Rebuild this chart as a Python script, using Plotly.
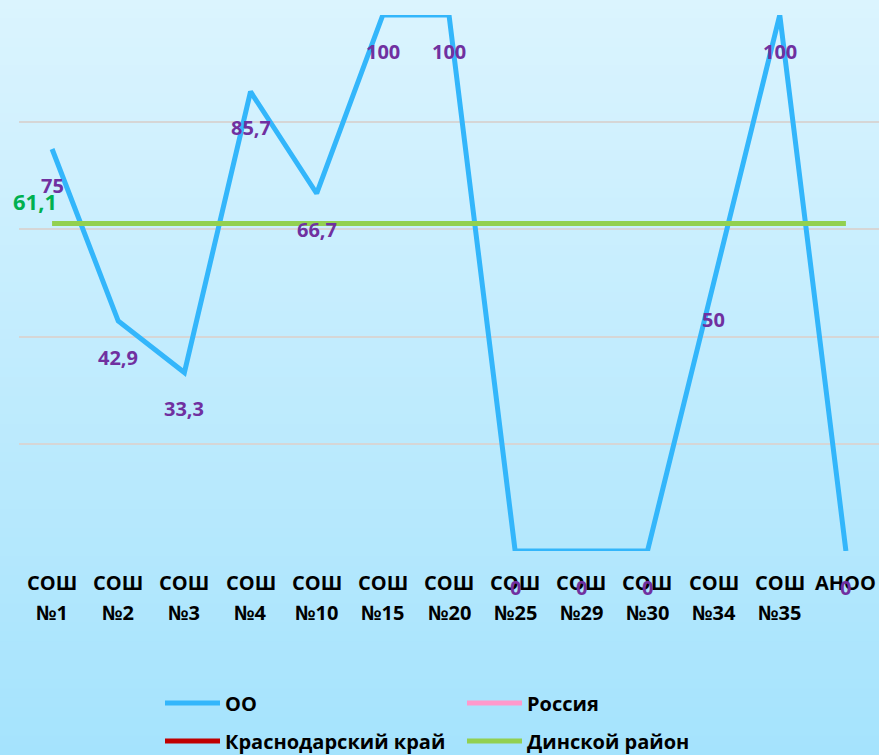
import plotly.graph_objects as go

# Categories (schools) split into two label rows
cat_top = ["СОШ"] * 12 + ["АНОО"]
cat_bottom = ["№1", "№2", "№3", "№4", "№10", "№15", "№20",
              "№25", "№29", "№30", "№34", "№35", ""]
categories = [f"{a} {b}".strip() for a, b in zip(cat_top, cat_bottom)]

# Series values
oo_values = [75, 42.9, 33.3, 85.7, 66.7, 100, 100, 0, 0, 0, 50, 100, 0]
district_value = 61.1
russia_values = [None] * len(categories)
krai_values = [None] * len(categories)
district_values = [district_value] * len(categories)

W, H = 879, 755
M_L, M_R, M_T, M_B = 19, 0, 15, 204
plot_w = W - M_L - M_R
plot_h = H - M_T - M_B
FONT = "Open Sans"

fig = go.Figure()

fig.add_trace(go.Scatter(x=categories, y=oo_values, name="<b>ОО</b>", mode="lines",
                         line=dict(color="#33b6fb", width=5), legend="legend"))
fig.add_trace(go.Scatter(x=categories, y=russia_values, name="<b>Россия</b>", mode="lines",
                         line=dict(color="#ff99cc", width=5), legend="legend"))
fig.add_trace(go.Scatter(x=categories, y=krai_values, name="<b>Краснодарский край</b>",
                         mode="lines", line=dict(color="#c00000", width=5), legend="legend2"))
fig.add_trace(go.Scatter(x=categories, y=district_values, name="<b>Динской район</b>",
                         mode="lines", line=dict(color="#92d050", width=5), legend="legend2"))

# Vertical gradient background built from thin strips
top_rgb = (0xdb, 0xf4, 0xfe)
bot_rgb = (0xa5, 0xe3, 0xfd)
n_strips = 80
shapes = []
x0p = -M_L / plot_w
x1p = 1 + M_R / plot_w
y_top = 1 + M_T / plot_h
y_bot = -M_B / plot_h
for i in range(n_strips):
    t = (i + 0.5) / n_strips
    c = tuple(round(a + (b - a) * t) for a, b in zip(top_rgb, bot_rgb))
    ya = y_top + (y_bot - y_top) * i / n_strips
    yb = y_top + (y_bot - y_top) * (i + 1) / n_strips
    shapes.append(dict(type="rect", xref="paper", yref="paper", layer="below",
                       x0=x0p, x1=x1p, y0=yb - 0.001, y1=ya + 0.001,
                       line=dict(width=0), fillcolor=f"rgb{c}"))

annotations = []
# Two-row category labels
for cat, a, b in zip(categories, cat_top, cat_bottom):
    annotations.append(dict(x=cat, y=0, xref="x", yref="y", text=f"<b>{a}</b>",
                            showarrow=False, yshift=-31, yanchor="middle",
                            font=dict(family=FONT, size=20, color="#000000")))
    if b:
        annotations.append(dict(x=cat, y=0, xref="x", yref="y", text=f"<b>{b}</b>",
                                showarrow=False, yshift=-61, yanchor="middle",
                                font=dict(family=FONT, size=20, color="#000000")))

# Data labels for ОО
for cat, v in zip(categories, oo_values):
    txt = f"{v:g}".replace(".", ",")
    annotations.append(dict(x=cat, y=v, xref="x", yref="y", text=f"<b>{txt}</b>",
                            showarrow=False, yshift=-36, yanchor="middle",
                            font=dict(family=FONT, size=20, color="#7030a0")))

# District level label
annotations.append(dict(x=categories[0], y=district_value, xref="x", yref="y",
                        text=f"<b>{district_value:g}</b>".replace(".", ","),
                        showarrow=False, xshift=-17, yshift=23, yanchor="middle",
                        font=dict(family=FONT, size=22, color="#00b050")))

legend_common = dict(orientation="h", xref="container", yref="container",
                     x=160 / W, xanchor="left", yanchor="middle",
                     entrywidth=232, entrywidthmode="pixels", itemwidth=55,
                     bgcolor="rgba(0,0,0,0)",
                     font=dict(family=FONT, size=20, color="#000000"),
                     itemclick=False, itemdoubleclick=False)

fig.update_layout(
    width=W, height=H,
    margin=dict(l=M_L, r=M_R, t=M_T, b=M_B, pad=0),
    paper_bgcolor="rgba(0,0,0,0)",
    plot_bgcolor="rgba(0,0,0,0)",
    font=dict(family=FONT),
    shapes=shapes,
    annotations=annotations,
    xaxis=dict(type="category", range=[-0.5, len(categories) - 0.5],
               showticklabels=False, showgrid=False, zeroline=False,
               showline=False, ticks=""),
    yaxis=dict(range=[0, 100], tickvals=[0, 20, 40, 60, 80, 100],
               showticklabels=False, showgrid=True, gridcolor="#d6d6d6",
               gridwidth=2, zeroline=False, showline=False, ticks=""),
    legend=dict(legend_common, y=1 - 703 / H),
    legend2=dict(legend_common, y=1 - 741 / H),
    showlegend=True,
)

fig.write_html("out.html")
